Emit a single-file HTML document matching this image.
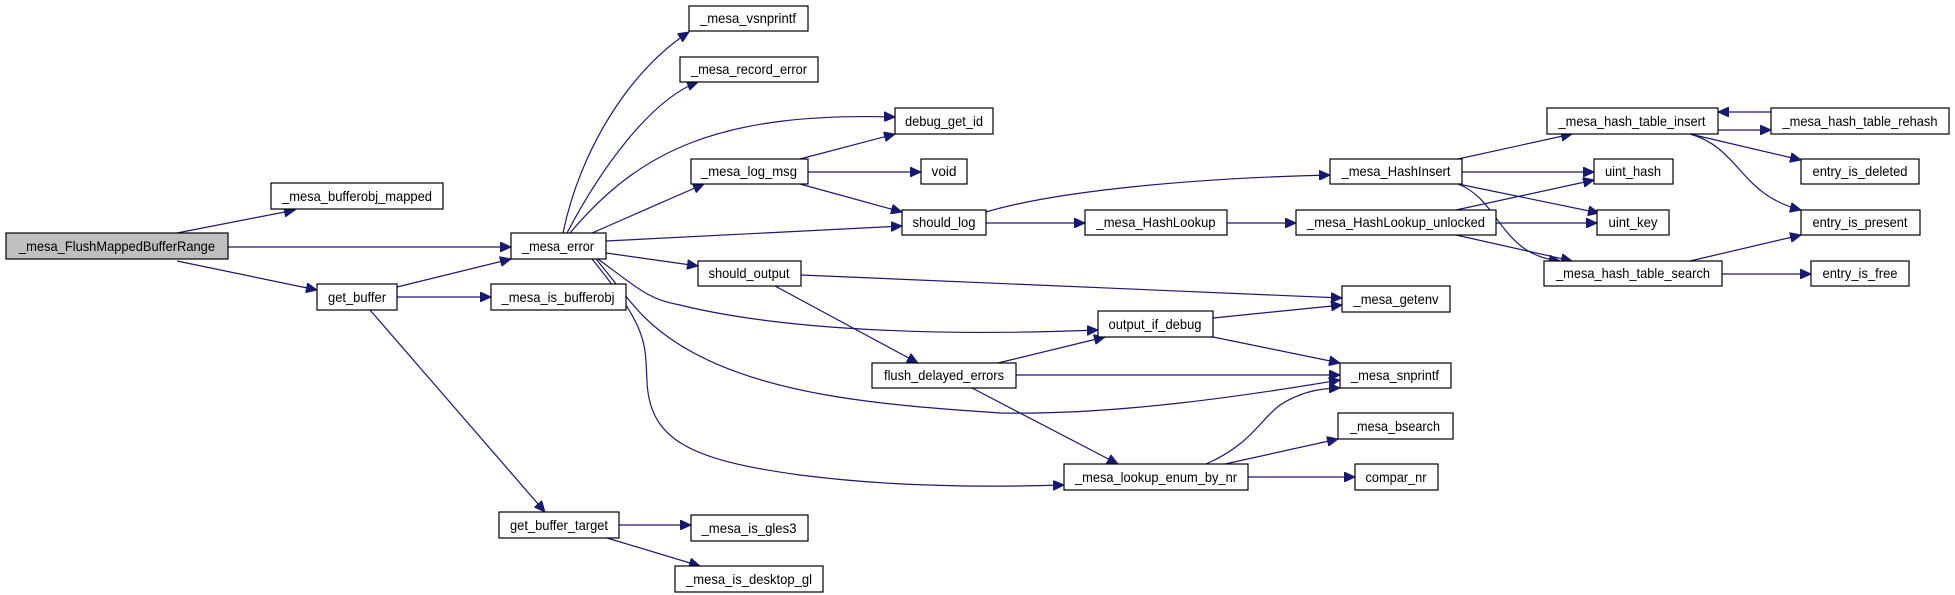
<!DOCTYPE html>
<html><head><meta charset="utf-8"><style>
html,body{margin:0;padding:0;background:#fff;}
svg{display:block;}
text{font-family:"Liberation Sans",sans-serif;font-size:14px;fill:#000;}
.e{fill:none;stroke:#191970;stroke-width:1.2;}
rect{stroke:#000;stroke-width:1.2;fill:#fff;}
</style></head><body>
<svg width="1955" height="595" viewBox="0 0 1955 595" xmlns="http://www.w3.org/2000/svg">
<defs><marker id="a" markerUnits="userSpaceOnUse" markerWidth="12" markerHeight="10" refX="11" refY="5" orient="auto"><path d="M0,0 L11,5 L0,10 Z" fill="#191970" stroke="#191970"/></marker></defs>
<g marker-end="url(#a)">
<path class="e" d="M177,233 L295,210"/>
<path class="e" d="M228,247 L511,247"/>
<path class="e" d="M177,261 L317,290"/>
<path class="e" d="M397,287 L511,259"/>
<path class="e" d="M397,297 L491,297"/>
<path class="e" d="M370,310 L545,512"/>
<path class="e" d="M619,525 L691,525"/>
<path class="e" d="M607,538 L700,566"/>
<path class="e" d="M563,233 C580,150 630,70 689,32"/>
<path class="e" d="M567,233 C600,170 650,100 698,82"/>
<path class="e" d="M570,233 C640,150 720,112 895,117"/>
<path class="e" d="M592,233 L704,184"/>
<path class="e" d="M606,241 L902,226"/>
<path class="e" d="M606,253 L698,266"/>
<path class="e" d="M598,259 C640,290 650,300 680,305 C760,325 900,338 1098,330"/>
<path class="e" d="M596,259 C630,300 640,320 680,345 C760,395 880,405 1000,413 C1120,415 1250,395 1340,380"/>
<path class="e" d="M592,259 C650,330 645,345 647,382 C650,440 690,460 800,475 C900,488 1000,487 1064,485"/>
<path class="e" d="M801,275 L1342,298"/>
<path class="e" d="M775,286 L918,363"/>
<path class="e" d="M800,159 L895,134"/>
<path class="e" d="M808,172 L921,172"/>
<path class="e" d="M800,184 L902,212"/>
<path class="e" d="M986,212 C1060,190 1200,178 1330,175"/>
<path class="e" d="M986,223 L1085,223"/>
<path class="e" d="M1227,223 L1296,223"/>
<path class="e" d="M1213,318 L1342,305"/>
<path class="e" d="M1213,337 L1340,363"/>
<path class="e" d="M998,363 L1105,337"/>
<path class="e" d="M1016,375 L1340,375"/>
<path class="e" d="M972,388 L1118,464"/>
<path class="e" d="M1206,464 C1250,445 1260,420 1280,405 C1300,392 1320,388 1340,388"/>
<path class="e" d="M1225,464 L1338,439"/>
<path class="e" d="M1248,477 L1355,477"/>
<path class="e" d="M1458,159 L1572,134"/>
<path class="e" d="M1462,172 L1594,172"/>
<path class="e" d="M1458,184 L1599,213"/>
<path class="e" d="M1458,184 C1500,200 1500,255 1560,261"/>
<path class="e" d="M1456,210 L1594,180"/>
<path class="e" d="M1496,223 L1597,223"/>
<path class="e" d="M1456,235 L1572,261"/>
<path class="e" d="M1718,130 L1771,130"/>
<path class="e" d="M1771,112 L1718,112"/>
<path class="e" d="M1690,134 L1801,160"/>
<path class="e" d="M1690,134 C1740,148 1740,195 1801,210"/>
<path class="e" d="M1690,261 L1801,235"/>
<path class="e" d="M1722,274 L1811,274"/>
</g>
<g>
<rect x="6" y="233" width="222" height="26" style="fill:#bfbfbf"/><text x="117" y="251" text-anchor="middle" textLength="196" lengthAdjust="spacingAndGlyphs">_mesa_FlushMappedBufferRange</text>
<rect x="271" y="183" width="172" height="26"/><text x="357" y="201" text-anchor="middle" textLength="150" lengthAdjust="spacingAndGlyphs">_mesa_bufferobj_mapped</text>
<rect x="317" y="284" width="80" height="26"/><text x="357" y="302" text-anchor="middle" textLength="58" lengthAdjust="spacingAndGlyphs">get_buffer</text>
<rect x="511" y="233" width="95" height="26"/><text x="558" y="251" text-anchor="middle" textLength="72" lengthAdjust="spacingAndGlyphs">_mesa_error</text>
<rect x="491" y="284" width="135" height="26"/><text x="558" y="302" text-anchor="middle" textLength="113" lengthAdjust="spacingAndGlyphs">_mesa_is_bufferobj</text>
<rect x="499" y="512" width="120" height="26"/><text x="559" y="530" text-anchor="middle" textLength="98" lengthAdjust="spacingAndGlyphs">get_buffer_target</text>
<rect x="689" y="6" width="119" height="25"/><text x="748" y="23" text-anchor="middle" textLength="96" lengthAdjust="spacingAndGlyphs">_mesa_vsnprintf</text>
<rect x="680" y="57" width="138" height="25"/><text x="749" y="74" text-anchor="middle" textLength="116" lengthAdjust="spacingAndGlyphs">_mesa_record_error</text>
<rect x="895" y="108" width="98" height="26"/><text x="944" y="126" text-anchor="middle" textLength="78" lengthAdjust="spacingAndGlyphs">debug_get_id</text>
<rect x="691" y="159" width="117" height="25"/><text x="749" y="176" text-anchor="middle" textLength="96" lengthAdjust="spacingAndGlyphs">_mesa_log_msg</text>
<rect x="921" y="159" width="46" height="25"/><text x="944" y="176" text-anchor="middle" textLength="25" lengthAdjust="spacingAndGlyphs">void</text>
<rect x="902" y="210" width="84" height="25"/><text x="944" y="227" text-anchor="middle" textLength="63" lengthAdjust="spacingAndGlyphs">should_log</text>
<rect x="1085" y="210" width="142" height="25"/><text x="1156" y="227" text-anchor="middle" textLength="119" lengthAdjust="spacingAndGlyphs">_mesa_HashLookup</text>
<rect x="698" y="261" width="103" height="25"/><text x="749" y="278" text-anchor="middle" textLength="81" lengthAdjust="spacingAndGlyphs">should_output</text>
<rect x="1098" y="311" width="115" height="26"/><text x="1155" y="329" text-anchor="middle" textLength="93" lengthAdjust="spacingAndGlyphs">output_if_debug</text>
<rect x="872" y="363" width="144" height="25"/><text x="944" y="380" text-anchor="middle" textLength="120" lengthAdjust="spacingAndGlyphs">flush_delayed_errors</text>
<rect x="1064" y="464" width="184" height="26"/><text x="1156" y="482" text-anchor="middle" textLength="162" lengthAdjust="spacingAndGlyphs">_mesa_lookup_enum_by_nr</text>
<rect x="691" y="515" width="117" height="26"/><text x="749" y="533" text-anchor="middle" textLength="95" lengthAdjust="spacingAndGlyphs">_mesa_is_gles3</text>
<rect x="675" y="566" width="148" height="26"/><text x="749" y="584" text-anchor="middle" textLength="126" lengthAdjust="spacingAndGlyphs">_mesa_is_desktop_gl</text>
<rect x="1547" y="108" width="171" height="26"/><text x="1632" y="126" text-anchor="middle" textLength="147" lengthAdjust="spacingAndGlyphs">_mesa_hash_table_insert</text>
<rect x="1771" y="108" width="178" height="26"/><text x="1860" y="126" text-anchor="middle" textLength="155" lengthAdjust="spacingAndGlyphs">_mesa_hash_table_rehash</text>
<rect x="1330" y="159" width="132" height="25"/><text x="1396" y="176" text-anchor="middle" textLength="109" lengthAdjust="spacingAndGlyphs">_mesa_HashInsert</text>
<rect x="1594" y="159" width="79" height="25"/><text x="1633" y="176" text-anchor="middle" textLength="56" lengthAdjust="spacingAndGlyphs">uint_hash</text>
<rect x="1801" y="159" width="118" height="25"/><text x="1860" y="176" text-anchor="middle" textLength="95" lengthAdjust="spacingAndGlyphs">entry_is_deleted</text>
<rect x="1296" y="210" width="200" height="25"/><text x="1396" y="227" text-anchor="middle" textLength="178" lengthAdjust="spacingAndGlyphs">_mesa_HashLookup_unlocked</text>
<rect x="1597" y="210" width="72" height="25"/><text x="1633" y="227" text-anchor="middle" textLength="49" lengthAdjust="spacingAndGlyphs">uint_key</text>
<rect x="1801" y="210" width="119" height="25"/><text x="1860" y="227" text-anchor="middle" textLength="95" lengthAdjust="spacingAndGlyphs">entry_is_present</text>
<rect x="1544" y="261" width="178" height="25"/><text x="1633" y="278" text-anchor="middle" textLength="154" lengthAdjust="spacingAndGlyphs">_mesa_hash_table_search</text>
<rect x="1811" y="261" width="98" height="25"/><text x="1860" y="278" text-anchor="middle" textLength="75" lengthAdjust="spacingAndGlyphs">entry_is_free</text>
<rect x="1342" y="286" width="108" height="26"/><text x="1396" y="304" text-anchor="middle" textLength="85" lengthAdjust="spacingAndGlyphs">_mesa_getenv</text>
<rect x="1340" y="363" width="111" height="25"/><text x="1395" y="380" text-anchor="middle" textLength="88" lengthAdjust="spacingAndGlyphs">_mesa_snprintf</text>
<rect x="1338" y="413" width="115" height="26"/><text x="1395" y="431" text-anchor="middle" textLength="90" lengthAdjust="spacingAndGlyphs">_mesa_bsearch</text>
<rect x="1355" y="464" width="83" height="26"/><text x="1396" y="482" text-anchor="middle" textLength="61" lengthAdjust="spacingAndGlyphs">compar_nr</text>
</g>
</svg>
</body></html>
